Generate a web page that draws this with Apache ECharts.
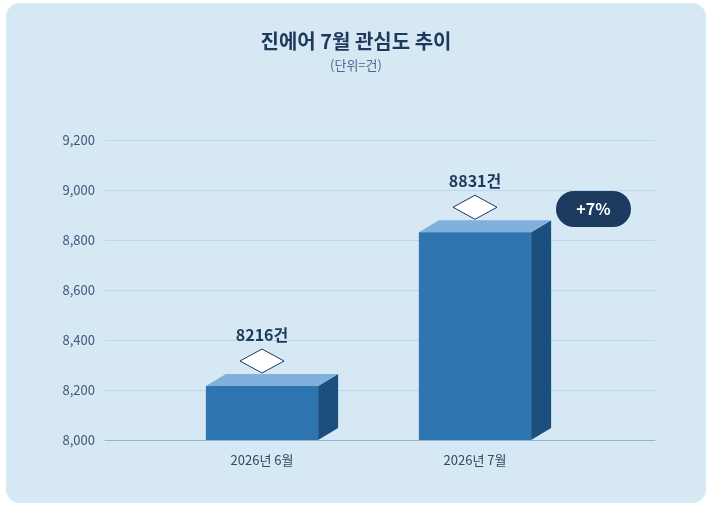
<!DOCTYPE html>
<html><head><meta charset="utf-8">
<script src="https://cdn.jsdelivr.net/npm/echarts@6/dist/echarts.min.js"></script>
<style>html,body{margin:0;padding:0;background:#fff}#c{width:712px;height:508px}</style>
</head><body><div id="c"></div>
<script>
const categories = ['2026년 6월', '2026년 7월'];
const values = [8216, 8831];
const valueLabels = ['8216건', '8831건'];
const yTicks = [8000, 9200, 200];
const changeLabel = '+7%';

const chart = echarts.init(document.getElementById('c'));
const font = '"Noto Sans CJK KR","Noto Sans",sans-serif';
chart.setOption({
  animation: false,
  graphic: [
    {type:'rect', z:-10, shape:{x:6,y:3,width:700,height:500,r:14}, style:{fill:'#d6e8f4'}},
    {type:'group', left:556, top:191, children:[
      {type:'rect', shape:{x:0,y:0,width:75,height:36,r:18}, style:{fill:'#1b3a5e'}},
      {type:'text', x:37.5, y:18, style:{text:changeLabel, fill:'#fff', font:'bold 16px '+font, align:'center', verticalAlign:'middle'}}
    ]}
  ],
  title: {
    text: '진에어 7월 관심도 추이', subtext: '(단위=건)', left: 'center', top: 26, itemGap: 8,
    textStyle: {fontFamily: font, fontSize: 20, fontWeight: 'bold', color: '#1d3a5c'},
    subtextStyle: {fontFamily: font, fontSize: 13, color: '#4a6a88'}
  },
  grid: [
    {left:105, right:57, top:140, bottom:68},
    {left:155.5, right:130.5, top:140, bottom:68}
  ],
  xAxis: [
    {gridIndex:0, type:'category', data:['',''], axisLine:{lineStyle:{color:'#8bb6d6'}}, axisTick:{show:false}, axisLabel:{show:false}},
    {gridIndex:1, type:'category', data:categories, axisLine:{show:false}, axisTick:{show:false},
     axisLabel:{fontFamily:font, fontSize:13, color:'#2f4b66', margin:14}}
  ],
  yAxis: [
    {gridIndex:0, type:'value', min:yTicks[0], max:yTicks[1], interval:yTicks[2],
     axisLine:{show:false}, axisTick:{show:false},
     axisLabel:{fontFamily:font, fontSize:13, color:'#3c5a78', margin:10},
     splitLine:{lineStyle:{color:'#b9d8ec'}}},
    {gridIndex:1, type:'value', min:yTicks[0], max:yTicks[1], interval:yTicks[2], show:false}
  ],
  series: [{
    type:'custom', xAxisIndex:1, yAxisIndex:1,
    data: values.map((v,i)=>[i,v]),
    renderItem: function(params, api){
      const i = api.value(0), v = api.value(1);
      const top = api.coord([i, v]), base = api.coord([i, yTicks[0]]);
      const bw = api.size([1,0])[0] * 0.527;
      const x0 = top[0] - bw/2, x1 = top[0] + bw/2, dx = 20, dy = 12;
      const yt = top[1], yb = base[1];
      const cx = top[0], cy = yt - 25;
      return {type:'group', children:[
        {type:'polygon', shape:{points:[[x1,yt],[x1+dx,yt-dy],[x1+dx,yb-dy],[x1,yb]]}, style:{fill:'#1a4f7e'}},
        {type:'polygon', shape:{points:[[x0,yt],[x0+dx,yt-dy],[x1+dx,yt-dy],[x1,yt]]}, style:{fill:'#7fb1dc'}},
        {type:'rect', shape:{x:x0,y:yt,width:bw,height:yb-yt}, style:{fill:'#2e75b0'}},
        {type:'polygon', shape:{points:[[cx-22,cy],[cx,cy-12],[cx+22,cy],[cx,cy+12]]}, style:{fill:'#fff', stroke:'#1d3a5c', lineWidth:1}},
        {type:'text', x:cx, y:cy-26, style:{text:valueLabels[i], fill:'#1d3a5c', font:'bold 16px '+font, align:'center', verticalAlign:'middle'}}
      ]};
    }
  }]
});
</script></body></html>
